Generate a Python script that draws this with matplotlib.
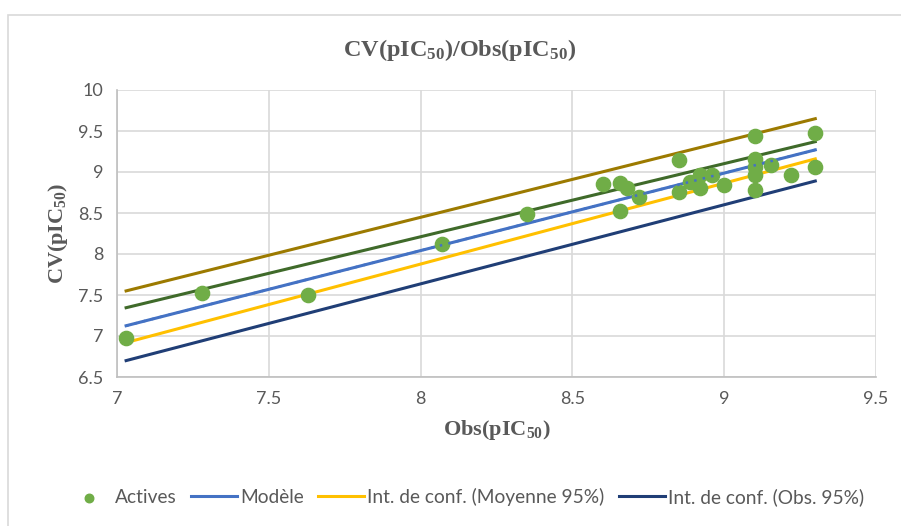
import matplotlib.pyplot as plt
from matplotlib.patches import Rectangle

plt.rcParams['mathtext.default'] = 'regular'

# observed vs cross-validated pIC50
obs = [7.03, 7.28, 7.63, 8.07, 8.35, 8.60, 8.656, 8.68, 8.656, 8.72,
       8.85, 8.85, 8.887, 8.92, 8.92, 8.96, 9.00, 9.10, 9.10, 9.10,
       9.10, 9.10, 9.155, 9.22, 9.30, 9.30]
cv = [6.97, 7.52, 7.50, 8.12, 8.49, 8.85, 8.87, 8.81, 8.53, 8.70,
      9.146, 8.756, 8.88, 8.96, 8.81, 8.96, 8.84, 9.44, 9.155, 9.065,
      8.96, 8.78, 9.085, 8.96, 9.47, 9.06]

# lines, evaluated at both ends of the observed range
x_line = [7.03, 9.30]
model = [7.125, 9.27]
conf_mean_low = [6.92, 9.16]
conf_mean_high = [7.345, 9.37]
conf_obs_low = [6.70, 8.89]
conf_obs_high = [7.55, 9.65]

sans = ['Lato', 'DejaVu Sans']

fig = plt.figure(figsize=(9.01, 5.26), dpi=100)
fig.patches.append(Rectangle((8 / 901, -0.1), 1.2, (526 - 15) / 526 + 0.1,
                             transform=fig.transFigure, fill=False,
                             edgecolor='#d9d9d9', lw=1.2))
ax = fig.add_axes([117 / 901, 1 - 377 / 526, (876 - 117) / 901, (377 - 90) / 526])

lw = 2.2
ax.plot(x_line, conf_obs_high, color='#9c7a00', lw=lw, zorder=3)
ax.plot(x_line, conf_mean_high, color='#3f6a2a', lw=lw, zorder=3)
ax.plot(x_line, model, color='#4472c4', lw=lw, zorder=3, label='Modèle')
ax.plot(x_line, conf_mean_low, color='#ffc000', lw=lw, zorder=3,
        label='Int. de conf. (Moyenne 95%)')
ax.plot(x_line, conf_obs_low, color='#203e76', lw=lw, zorder=3,
        label='Int. de conf. (Obs. 95%)')
ax.scatter(obs, cv, s=105, color='#70ad47', zorder=4, label='Actives')
ax.plot(x_line, model, color='#4472c4', lw=1.8, ls=(0, (1, 2.5)), zorder=5)

ax.set_xlim(7, 9.5)
ax.set_ylim(6.5, 10)
ax.set_xticks([7, 7.5, 8, 8.5, 9, 9.5])
ax.set_xticklabels(['7', '7.5', '8', '8.5', '9', '9.5'])
ax.set_yticks([6.5, 7, 7.5, 8, 8.5, 9, 9.5, 10])
ax.set_yticklabels(['6.5', '7', '7.5', '8', '8.5', '9', '9.5', '10'])
ax.grid(True, color='#d9d9d9', lw=1.2)
ax.set_axisbelow(True)
for s in ['top', 'right']:
    ax.spines[s].set_visible(False)
for s in ['left', 'bottom']:
    ax.spines[s].set_color('#bfbfbf')
    ax.spines[s].set_linewidth(1.2)
ax.tick_params(length=0, labelsize=13, labelcolor='#595959', pad=10)
for lab in ax.get_xticklabels() + ax.get_yticklabels():
    lab.set_family(sans)

serif = dict(family='Liberation Serif', weight='bold', color='#595959')
fig.text(460 / 901, 1 - 50 / 526, 'CV(pIC$_{50}$)/Obs(pIC$_{50}$)',
         fontsize=17.5, ha='center', va='center', **serif)
ax.set_xlabel('Obs(pIC$_{50}$)', fontsize=16, labelpad=8, **serif)
ax.set_ylabel('CV(pIC$_{50}$)', fontsize=16, labelpad=6, **serif)

handles, labels = ax.get_legend_handles_labels()
order = [3, 0, 1, 2]
leg = fig.legend([handles[i] for i in order], [labels[i] for i in order],
                 loc='center', bbox_to_anchor=(465 / 901, 1 - 497 / 526), ncol=4,
                 frameon=False, handlelength=2.4, handletextpad=0.15,
                 columnspacing=0.75, markerscale=0.6, borderpad=0,
                 prop={'family': sans, 'size': 13.8})
for t in leg.get_texts():
    t.set_color('#595959')

fig.savefig('out.png', dpi=100)
